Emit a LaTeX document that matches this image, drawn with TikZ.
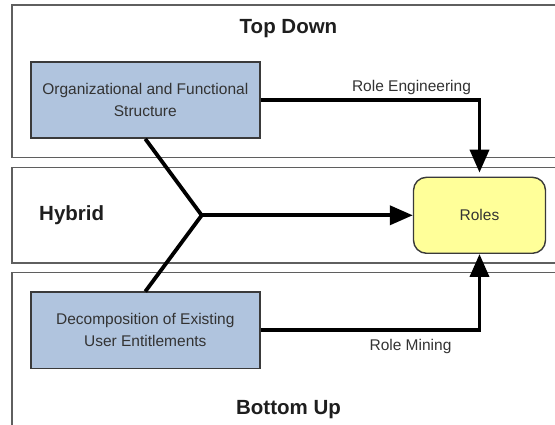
\documentclass[tikz,border=0pt]{standalone}
\usepackage{fontspec}
\setmainfont{Liberation Sans}
\usetikzlibrary{arrows.meta}
\definecolor{bandline}{HTML}{5F5F5F}
\definecolor{boxfill}{HTML}{B0C4DE}
\definecolor{boxline}{HTML}{3A3A3A}
\definecolor{rolefill}{HTML}{FFFF99}
\definecolor{labeltext}{HTML}{333333}
\definecolor{titletext}{HTML}{1E1E1E}

\begin{document}
\begin{tikzpicture}[x=1pt,y=-1pt,
  band/.style={draw=bandline,line width=1.6pt,fill=white},
  srcbox/.style={draw=boxline,line width=1.4pt,fill=boxfill,
    minimum width=229pt,minimum height=76pt,inner sep=0pt,align=center,
    font=\fontsize{15.5}{22.5}\selectfont,text=labeltext},
  rolebox/.style={draw=boxline,line width=1.4pt,fill=rolefill,rounded corners=13pt,
    minimum width=132pt,minimum height=76pt,inner sep=0pt,
    font=\fontsize{15.5}{18}\selectfont,text=labeltext},
  title/.style={font=\fontsize{20.5}{24}\selectfont\bfseries,text=titletext,
    anchor=base,inner sep=0pt},
  flowlabel/.style={font=\fontsize{15.5}{18}\selectfont,text=labeltext,
    anchor=base,inner sep=0pt},
  flow/.style={line width=3.8pt,draw=black},
  tip/.style={-{Triangle[length=23pt,width=19pt]}}
]
\useasboundingbox (0,0) rectangle (555,425);

% the three horizontal bands (they run past the right and bottom edges)
\begin{scope}
  \clip (0,0) rectangle (555,425);
  \draw[band] (11.7,5) rectangle (580,157.7);
  \draw[band] (11.7,167.7) rectangle (580,263.3);
  \draw[band] (11.7,272.7) rectangle (580,450);
\end{scope}

% band titles
\node[title] (td) at (288.5,33.5) {Top Down};
\node[title,anchor=base west] (hy) at (39,220.5) {Hybrid};
\node[title] (bu) at (288.5,414.7) {Bottom Up};

% sources and target
\node[srcbox] (org) at (145.3,100.2) {Organizational and Functional\\Structure};
\node[srcbox] (dec) at (145.3,330.2) {Decomposition of Existing\\User Entitlements};
\node[rolebox] (roles) at (479.5,215.3) {Roles};
\coordinate (fork) at (201.7,215.3);

% connectors
\draw[flow,tip,shorten >=4pt] (org.east) -| (roles.north);
\draw[flow,tip] (dec.east) -| (roles.south);
\draw[flow] (org.south) -- (fork) -- (dec.north);
\draw[flow,tip] (fork) -- (roles.west);

% connector labels
\node[flowlabel] (re) at (411.5,91.7) {Role Engineering};
\node[flowlabel] (rm) at (410.5,350) {Role Mining};
\end{tikzpicture}
\end{document}
